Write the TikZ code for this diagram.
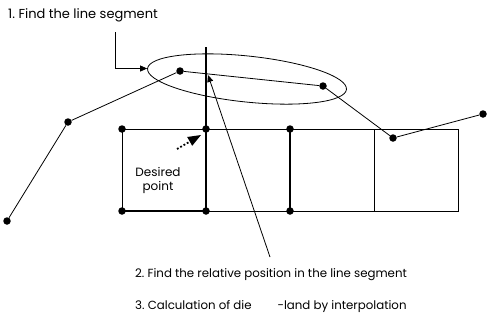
\documentclass[tikz,border=0pt]{standalone}
\usepackage{fontspec}
\setmainfont{Poppins}
\usetikzlibrary{positioning, arrows.meta, shapes.geometric}

\begin{document}
\begin{tikzpicture}[
    x=1pt, y=-1pt,
    dot/.style={
        circle,
        fill,
        inner sep=0pt,
        minimum size=7.5pt
    },
    label/.style={
        anchor=west,
        inner sep=0pt,
        font=\fontsize{11.8}{13}\selectfont
    },
    curve/.style={
        line width=0.8pt
    },
    cell/.style={
        line width=1pt
    },
    arrow/.style={
        line width=0.8pt,
        -{Triangle[length=7pt, width=6pt]}
    }
]
\useasboundingbox (0,0) rectangle (489,327);

% polyline points
\node[dot] (p1) at (7,221) {};
\node[dot] (p2) at (68,122) {};
\node[dot] (p3) at (180,71) {};
\node[dot] (p4) at (323,86) {};
\node[dot] (p5) at (393,138) {};
\node[dot] (p6) at (483,114) {};
\draw[curve] (p1) -- (p2) -- (p3) -- (p4) -- (p5) -- (p6);

% grid cells
\node[dot] (g1) at (122,129) {};
\node[dot] (g2) at (206,129) {};
\node[dot] (g3) at (290,129) {};
\node[dot] (g4) at (122,211) {};
\node[dot] (g5) at (206,211) {};
\node[dot] (g6) at (290,211) {};
\coordinate (g7) at (374,129);
\coordinate (g8) at (374,211);
\coordinate (g9) at (458,129);
\coordinate (g10) at (458,211);
\coordinate (vtop) at (206,47);
\draw[cell] (g1.center) -- (g9) -- (g10) -- (g4.center) -- cycle;
\draw[cell, line width=1.4pt] (vtop) -- (g5.center);
\draw[cell, line width=1.4pt] (g3.center) -- (g6.center);
\draw[cell] (g7) -- (g8);
\draw[cell, line width=1.4pt] (g4.center) -- (g5.center);

% segment search
\node[draw, ellipse, line width=0.8pt, minimum width=200pt, minimum height=46pt, rotate=-6] (seg) at (247,79) {};
\node[label, font=\fontsize{13}{14}\selectfont] (step1) at (8,15) {1.\ Find the line segment};
\coordinate (a1) at (115,32);
\draw[arrow] (a1) |- (seg.west);

% relative position
\coordinate (a2) at (270,257);
\coordinate (tip2) at (208,75);
\draw[arrow] (a2) -- (tip2);
\node[label] (step2) at (135,275) {2.\ Find the relative position in the line segment};
\node[label] (step3) at (135,307) {3.\ Calculation of die\hspace{2.2em}-land by interpolation};

% desired point
\node[align=center, inner sep=0pt, font=\fontsize{12}{14}\selectfont] (want) at (158,180) {Desired\\point};
\coordinate (d1) at (177,149);
\coordinate (d3) at (190,141.5);
\coordinate (d2) at (201,135);
\draw[line width=1.8pt, dotted] (d1) -- (d3);
\fill (d2) -- (192.2,145.8) -- (187.2,137.0) -- cycle;

\end{tikzpicture}
\end{document}
